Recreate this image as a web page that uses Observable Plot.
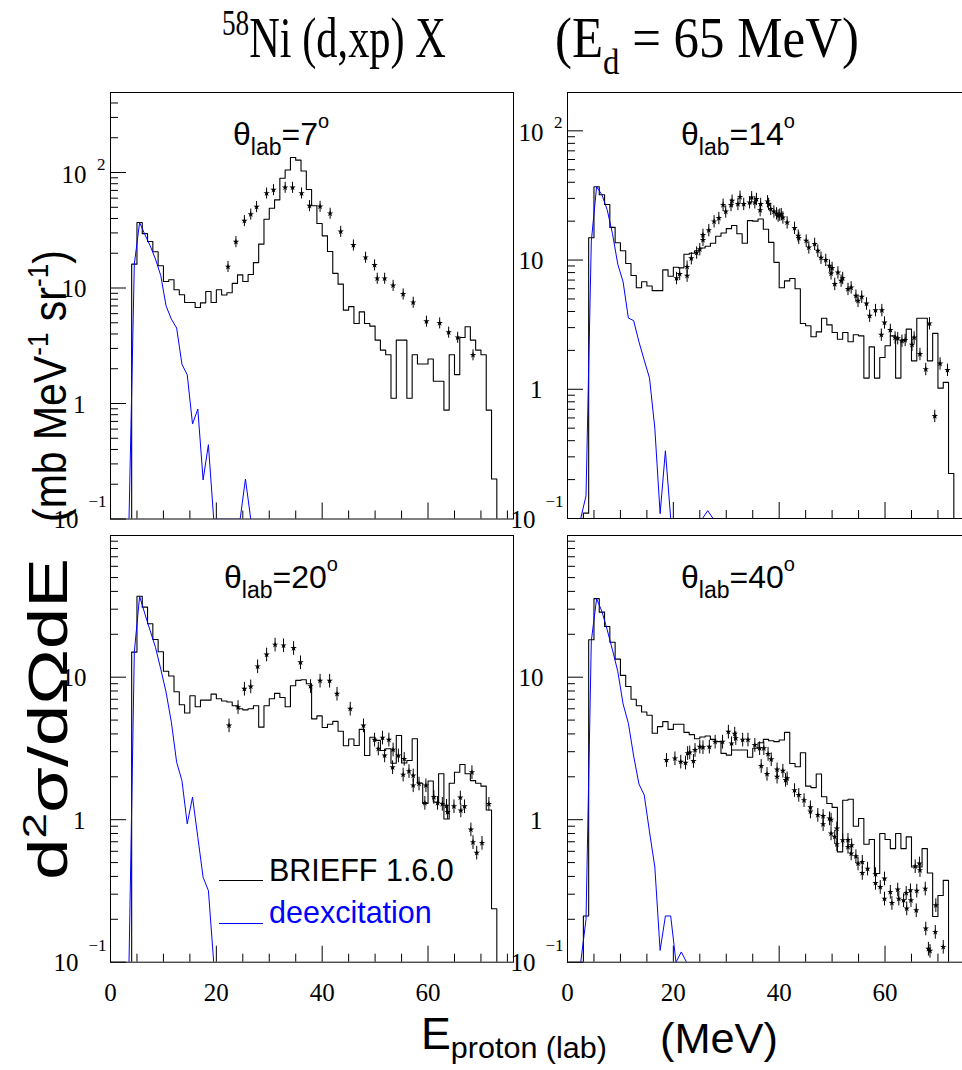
<!DOCTYPE html>
<html>
<head>
<meta charset="utf-8">
<script src="https://cdn.jsdelivr.net/npm/d3@7"></script>
<script src="https://cdn.jsdelivr.net/npm/@observablehq/plot@0.6"></script>
<style>
html,body{margin:0;padding:0;background:#fff;}
#wrap{position:relative;width:962px;height:1070px;overflow:hidden;background:#fff;}
</style>
</head>
<body>
<div id="wrap"></div>
<script>
// ---------------- DATA ----------------
// x axis ticks / labels (MeV)
const xTickLabels = [0, 20, 40, 60];
const panelAngles = ["7", "14", "20", "40"];

// theta = 7 deg
const hist7Start = 4;   // 1 MeV bins, lower edge of first bin
const hist7 = [16.1,36.9,29.6,25.3,20.6,15.6,11.4,11.8,9.66,8.74,7.5,7.5,6.79,7.44,9.33,7.5,9.66,8.7,9.1,10.96,13.0,11.4,13.1,16.6,24.0,39.4,49.1,58.0,89.3,105,135,128,103,71.3,51.5,36.2,28.3,20.7,13.4,10.8,6.44,6.9,4.93,6.22,4.93,4.68,3.54,2.90,2.64,1.11,3.54,3.54,1.11,2.64,2.20,2.20,2.43,1.56,1.56,0.877,2.64,1.78,3.73,4.62,3.54,2.90,2.64,0.877,0.222];
const deex7Start = 3.5;  // bin centres
const deex7 = [0.1,16.1,36.9,29,23.2,17.8,12.8,7.0,5.38,4.5,2.19,1.77,0.664,0.895,0.218,0.44,0.1,0.1,0.1,0.1,0.1,0.1,0.222,0.1];
const exp7E = [22.2,23.7,25.3,26.5,27.6,29.5,30.8,33.0,34.4,36.1,37.6,39.6,41.5,43.5,45.9,48.2,49.9,50.4,51.8,53.4,55.3,57.2,59.7,62.2,63.9,65.6,68.5];
const exp7V = [15.3,25.1,38.2,43.5,50.5,66.2,70.8,74.2,74.2,66.2,51.5,50.8,44.2,30.8,23.5,18.4,15.8,12.1,12.1,10.5,8.85,7.5,5.14,4.97,4.13,3.73,2.63];

// theta = 14 deg
const hist14Start = 3;
const hist14 = [0.11,14.9,36.9,32.0,26.9,17.9,13.6,11.8,9.4,7.6,6.1,6.8,6.3,5.8,5.8,8.4,7.5,8.8,8.7,11.1,11.3,11.8,12.4,12.8,13.5,15.3,16.2,17.5,18.5,16.0,13.5,20.2,20.0,20.8,17.3,13.7,9.6,6.1,6.9,7.2,6.0,3.23,3.10,2.55,2.78,3.55,3.15,2.75,2.44,2.75,2.33,2.64,2.59,1.22,2.13,1.22,1.76,2.17,2.59,1.22,2.40,2.92,1.66,3.55,3.55,1.66,2.71,1.02,1.13,0.223];
const deex14Start = 2.5;
const deex14 = [0.1,0.15,14,36.9,32,24.5,16,9.3,6.8,3.56,3.4,2.33,1.68,1.22,0.5,0.109,0.334,0.1,0.1,0.1,0.1,0.1,0.1,0.1,0.115,0.1];
const exp14E = [20.6,21.2,22.6,22.6,23.4,24.4,25.0,25.6,25.6,26.7,27.7,28.6,29.4,29.9,30.9,31.1,32.2,32.6,33.3,34.4,34.8,35.4,35.7,36.4,36.5,37.8,38.0,38.4,39.0,39.5,39.8,40.1,40.4,40.7,41.5,42.9,43.6,43.7,45.1,45.6,46.7,47.3,47.9,48.8,49.5,50.0,49.8,50.5,51.1,51.7,52.0,53.0,53.6,54.5,54.9,55.6,56.5,57.1,58.2,59.4,59.9,59.3,61.0,61.9,62.4,63.2,63.8,65.1,65.5,66.6,67.7,68.4,69.4,70.4,71.8];
const exp14V = [7.24,7.8,7.55,8.85,10.3,11.4,12.1,14.3,15.6,17.0,19.9,21.1,26.7,23.7,26.6,28.7,27.1,30.8,27.1,27.9,30.5,27.9,29.6,24.3,27.1,28.4,27.1,24.8,23.7,22.9,22.0,22.4,22.6,21.3,19.5,17.7,15.4,14.8,14.1,12.5,13.3,11.8,10.4,10.0,9.02,8.66,7.87,6.51,8.0,6.9,7.24,5.96,6.13,5.28,4.83,5.19,4.6,3.7,4.09,4.09,3.28,2.64,2.87,2.51,2.48,2.37,2.40,2.21,2.51,1.87,1.43,3.23,0.62,1.58,1.41];

// theta = 20 deg
const hist20Start = 4;
const hist20 = [15.0,37.0,31.0,23.7,18.4,15.1,11.0,10.2,7.9,6.4,5.6,7.4,6.2,6.9,6.9,7.6,7.05,6.8,6.7,6.3,6.0,5.9,6.0,6.3,4.46,6.3,7.05,7.7,7.2,6.2,8.7,9.5,9.6,9.0,5.1,5.35,4.44,4.67,4.9,4.17,3.3,3.68,3.32,4.3,2.82,3.79,3.6,3.06,3.15,2.49,3.9,2.5,2.6,3.7,1.8,1.3,1.87,1.33,2.1,1.01,1.8,2.15,2.44,2.1,1.88,1.8,1.72,1.17,0.237];
const deex20Start = 3.5;
const deex20 = [0.1,15.0,37.0,27.8,21.2,16.2,11.4,7.85,4.83,2.53,1.88,0.935,1.44,0.753,0.394,0.318,0.1];
const exp20E = [22.4,24.1,25.3,26.5,27.8,29.5,31.1,32.7,34.6,35.9,37.8,39.6,41.4,42.8,45.3,47.8,49.9,50.6,51.4,51.8,52.6,53.4,53.3,54.4,55.5,55.3,56.4,57.2,57.2,58.3,59.6,59.4,61.1,61.8,62.7,63.7,63.5,64.9,66.1,66.2,66.9,68.1,68.5,69.2,70.2,68.3,71.5];
const exp20V = [4.58,6.16,8.28,8.6,11.9,14.4,16.9,16.7,16.0,12.7,8.65,9.43,9.43,7.64,6.0,4.58,3.64,3.15,3.76,2.82,3.64,3.10,2.33,2.82,2.67,2.07,2.19,2.04,1.74,1.79,1.74,1.31,1.44,1.31,1.29,1.13,1.25,1.24,1.43,1.16,1.24,0.853,0.695,0.586,0.687,2.15,1.29];

// theta = 40 deg
const hist40Start = 3;
const hist40 = [0.211,18.3,35.6,28.6,22.7,17.6,13.4,10.3,8.6,7.0,6.3,5.7,5.4,4.04,4.5,4.88,4.3,4.67,4.67,4.1,3.95,3.7,3.8,3.87,3.66,3.53,2.92,2.84,3.08,3.08,3.08,2.74,3.17,3.47,3.66,3.58,3.53,3.62,4.10,2.48,2.35,2.95,1.72,1.68,2.09,1.45,1.3,1.22,0.594,1.37,1.39,0.9,1.02,0.673,0.726,0.419,0.80,0.726,0.627,0.80,0.627,0.757,0.466,0.466,0.627,0.423,0.209,0.294,0.375];
const deex40Start = 2.5;
const deex40 = [0.1,0.2,18,35.5,29,21.5,15.5,11,6.5,4.75,2.8,1.78,1.49,0.82,0.466,0.121,0.211,0.211,0.1,0.118,0.1];
const exp40E = [18.7,20.3,21.4,22.3,22.7,23.1,23.8,24.1,25.0,25.6,26.8,27.9,29.3,30.4,31.0,31.6,31.8,33.1,34.1,35.4,36.3,37.1,37.9,38.5,36.6,37.7,39.6,39.6,40.7,41.2,41.5,42.9,43.7,44.7,45.9,45.9,47.3,48.3,48.3,49.5,49.8,49.8,50.5,50.9,50.9,52.0,53.0,53.0,53.7,53.6,54.5,54.9,55.7,55.7,56.7,58.2,58.2,59.1,59.9,59.9,61.0,61.3,62.4,62.6,63.5,64.0,64.1,64.8,64.9,65.9,66.0,65.7,66.5,66.6,67.6,67.7,68.2,68.5,69.5,69.6,71.0];
const exp40V = [2.62,2.69,2.55,2.51,2.93,2.96,2.58,3.08,3.25,3.22,3.25,3.52,3.52,4.14,3.43,4.0,3.73,3.64,3.64,3.34,3.17,3.17,2.89,2.65,2.38,2.09,2.25,2.0,2.2,1.9,1.95,1.61,1.49,1.37,1.22,1.14,1.08,1.06,0.93,1.02,1.0,0.80,0.758,0.867,0.673,0.718,0.72,0.644,0.66,0.578,0.553,0.492,0.505,0.422,0.453,0.414,0.36,0.337,0.386,0.279,0.311,0.26,0.323,0.279,0.272,0.306,0.238,0.319,0.272,0.231,0.317,0.471,0.492,0.442,0.328,0.172,0.124,0.12,0.163,0.251,0.128];

// ---------------- LAYOUT ----------------
const X_MAX = 76.15;
const REL_ERR = 0.11;
const FW = 403;             // frame width (px)
const M = {l: 110, r: 8, t: 8, b: 60};
const SERIF = "Liberation Serif, Times New Roman, serif";
const SANS = "Liberation Sans, Arial, Helvetica, sans-serif";

const panels = [
  {left: 110,   top: 91.8, H: 426.5, yTop: 493, hs: hist7Start,  h: hist7,  ds: deex7Start,  d: deex7,  e: exp7E,  v: exp7V,  xl: false},
  {left: 567.3, top: 91.8, H: 426.0, yTop: 198, hs: hist14Start, h: hist14, ds: deex14Start, d: deex14, e: exp14E, v: exp14V, xl: false},
  {left: 110,   top: 535,  H: 426.7, yTop: 98.7, hs: hist20Start, h: hist20, ds: deex20Start, d: deex20, e: exp20E, v: exp20V, xl: true},
  {left: 567.3, top: 535,  H: 426.7, yTop: 98.7, hs: hist40Start, h: hist40, ds: deex40Start, d: deex40, e: exp40E, v: exp40V, xl: true}
];

const wrap = document.getElementById("wrap");

function yLabelMarks(yTop) {
  const out = [];
  const t = (v, txt, dx, dy, fs) => Plot.text([v], {y: d => d, frameAnchor: "left", text: () => txt,
    textAnchor: "end", dx, dy, fontFamily: SERIF, fontSize: fs, fill: "black"});
  out.push(t(0.1, "10", -32, 1, 25), t(0.1, "\u22121", -4, -17, 17));
  out.push(t(1, "1", -25, 1, 25));
  out.push(t(10, "10", -24, 1, 25));
  if (yTop >= 100) out.push(t(100, "10", -24, 2, 25), t(100, "2", -5, -8, 17));
  return out;
}

panels.forEach(p => {
  const H = p.H;
  const histData = [{x: p.hs, y: 0.1}]
    .concat(p.h.map((v, i) => ({x: p.hs + i, y: v})))
    .concat([{x: p.hs + p.h.length, y: 0.1}]);
  const deexData = p.d.map((v, i) => ({x: p.ds + i, y: v}));
  const pts = p.e.map((e, i) => ({e, v: p.v[i]}));

  const majorY = [0.1, 1, 10, 100].filter(v => v <= p.yTop);
  const minorY = [];
  [0.1, 1, 10, 100].forEach(dec => { for (let k = 2; k <= 9; k++) if (dec * k <= p.yTop) minorY.push(dec * k); });
  const majorX = [20, 40, 60];
  const minorX = [];
  for (let x = 5; x < X_MAX; x += 5) if (x % 20 !== 0) minorX.push(x);

  const marks = [
    Plot.ruleY(majorY, {y: d => d, insetRight: FW - 16, stroke: "black"}),
    Plot.ruleY(minorY, {y: d => d, insetRight: FW - 8, stroke: "black"}),
    Plot.ruleX(majorX, {x: d => d, insetTop: H - 16, stroke: "black"}),
    Plot.ruleX(minorX, {x: d => d, insetTop: H - 8, stroke: "black"}),
    Plot.line(histData, {x: "x", y: "y", curve: "step-after", stroke: "black", strokeWidth: 1.1, clip: true}),
    Plot.line(deexData, {x: "x", y: "y", stroke: "#0000ff", strokeWidth: 1, clip: true}),
    Plot.ruleX(pts, {x: "e", y1: d => d.v * (1 - REL_ERR), y2: d => d.v * (1 + REL_ERR), stroke: "black", strokeWidth: 1, clip: true}),
    Plot.dot(pts, {x: "e", y: "v", symbol: "star", r: 2.0, fill: "black", stroke: "none", clip: true}),
    Plot.frame({stroke: "black", strokeWidth: 1}),
    ...yLabelMarks(p.yTop)
  ];
  if (p.xl) {
    marks.push(Plot.text(xTickLabels, {x: d => d, frameAnchor: "bottom", dy: 39, text: d => String(d),
      fontFamily: SERIF, fontSize: 25, fill: "black"}));
  }
  const svg = Plot.plot({
    width: M.l + FW + M.r,
    height: M.t + H + M.b,
    marginLeft: M.l, marginRight: M.r, marginTop: M.t, marginBottom: M.b,
    x: {domain: [0, X_MAX], axis: null},
    y: {type: "log", domain: [0.1, p.yTop], axis: null},
    style: `position:absolute;left:${p.left - M.l}px;top:${p.top - M.t}px;background:transparent;overflow:visible;max-width:none;`,
    marks
  });
  wrap.appendChild(svg);
});

// ---------------- TEXT OVERLAY ----------------
const ov = d3.select(wrap).append("svg")
  .attr("width", 962).attr("height", 1070)
  .style("position", "absolute").style("left", "0px").style("top", "0px")
  .style("overflow", "visible").style("pointer-events", "none");

function fitX(sel, x0, x1) {
  const node = sel.node();
  const bb = node.getBBox();
  if (!bb.width) return;
  const s = (x1 - x0) / bb.width;
  node.setAttribute("transform", `translate(${x0 - s * bb.x},0) scale(${s},1)`);
}

// Title
const tL = ov.append("text").attr("x", 222).attr("y", 57)
  .attr("font-family", SERIF).attr("font-size", 56).attr("fill", "black");
tL.append("tspan").attr("font-size", 36).attr("dy", -22).text("58");
tL.append("tspan").attr("dy", 22).text("Ni (d,xp) X");
fitX(tL, 222, 446);
const tR = ov.append("text").attr("x", 555).attr("y", 57)
  .attr("font-family", SERIF).attr("font-size", 56).attr("fill", "black");
tR.append("tspan").text("(E");
tR.append("tspan").attr("font-size", 36).attr("dy", 17).text("d");
tR.append("tspan").attr("dy", -17).text(" = 65 MeV)");
fitX(tR, 555, 859);

// Panel labels
const labPos = [[233, 145], [681, 145], [224, 588], [681, 588]];
labPos.forEach(([x, y], i) => {
  const t = ov.append("text").attr("x", x).attr("y", y)
    .attr("font-family", SANS).attr("font-size", 32).attr("fill", "black");
  t.append("tspan").text("\u03b8");
  t.append("tspan").attr("font-size", 23).attr("dy", 10).text("lab");
  t.append("tspan").attr("dy", -10).text("=" + panelAngles[i]);
  t.append("tspan").attr("font-size", 20).attr("dy", -17).text("o");
});

// Legend (in the 20 deg panel)
ov.append("line").attr("x1", 219).attr("x2", 263).attr("y1", 880.5).attr("y2", 880.5).attr("stroke", "black").attr("stroke-width", 1);
ov.append("line").attr("x1", 219).attr("x2", 263).attr("y1", 923.5).attr("y2", 923.5).attr("stroke", "#0000ff").attr("stroke-width", 1);
ov.append("text").attr("x", 269).attr("y", 881).attr("font-family", SANS).attr("font-size", 30.5)
  .attr("fill", "black").text("BRIEFF 1.6.0");
ov.append("text").attr("x", 269).attr("y", 923).attr("font-family", SANS).attr("font-size", 30.5)
  .attr("fill", "#0000ff").text("deexcitation");

// X axis title
const xt = ov.append("text").attr("x", 421).attr("y", 1049)
  .attr("font-family", SANS).attr("font-size", 44).attr("fill", "black");
xt.append("tspan").text("E");
xt.append("tspan").attr("font-size", 30).attr("dy", 9).text("proton (lab)");
fitX(xt, 421, 607);
const xt2 = ov.append("text").attr("x", 660).attr("y", 1053)
  .attr("font-family", SANS).attr("font-size", 42).attr("fill", "black").text("(MeV)");
fitX(xt2, 660, 778);

// Y axis title (rotated)
const g1 = ov.append("g").attr("transform", "translate(67,880) rotate(-90)");
const y1 = g1.append("text").attr("x", 0).attr("y", 0)
  .attr("font-family", SANS).attr("font-size", 55).attr("fill", "black");
y1.append("tspan").text("d");
y1.append("tspan").attr("font-size", 34).attr("dy", -21).text("2");
y1.append("tspan").attr("dy", 21).text("\u03c3/d\u03a9dE");
fitX(y1, 0, 322);
const g2 = ov.append("g").attr("transform", "translate(66,522) rotate(-90)");
const y2 = g2.append("text").attr("x", 0).attr("y", 0)
  .attr("font-family", SANS).attr("font-size", 47).attr("fill", "black");
y2.append("tspan").text("(mb MeV");
y2.append("tspan").attr("font-size", 30).attr("dy", -18).text("-1");
y2.append("tspan").attr("dy", 18).text(" sr");
y2.append("tspan").attr("font-size", 30).attr("dy", -18).text("-1");
y2.append("tspan").attr("dy", 18).text(")");
fitX(y2, 0, 272);
</script>
</body>
</html>
